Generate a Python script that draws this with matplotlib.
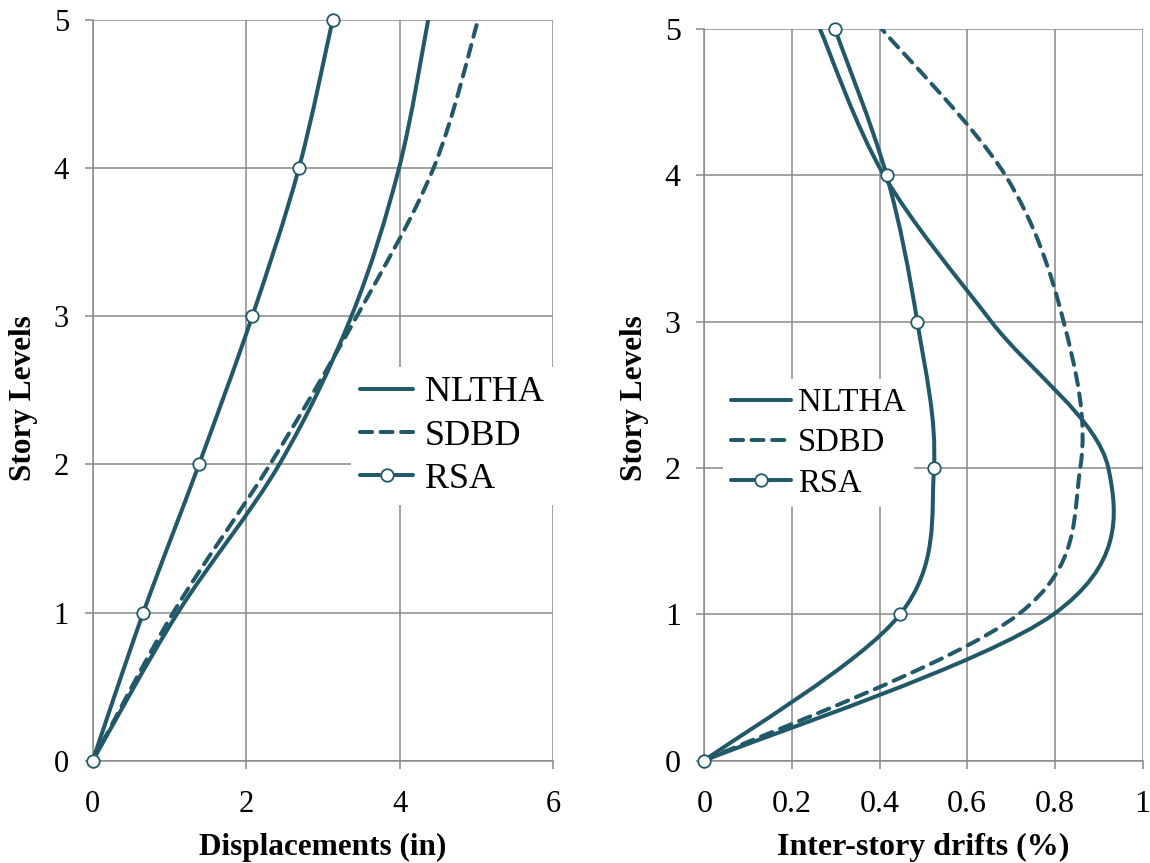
import numpy as np
import matplotlib
matplotlib.use("Agg")
import matplotlib.pyplot as plt
from matplotlib.path import Path
from matplotlib.patches import PathPatch
from matplotlib.lines import Line2D

# ---------------- data ----------------
stories = [0, 1, 2, 3, 4, 5]
disp_nltha = [0, 1.11, 2.43, 3.37, 3.99, 4.37]
disp_sdbd = [0, 1.05, 2.31, 3.44, 4.44, 5.02]
disp_rsa = [0, 0.659, 1.384, 2.078, 2.686, 3.125]

drift_nltha = [0, 0.797, 0.922, 0.655, 0.41, 0.264]
drift_sdbd = [0, 0.717, 0.858, 0.82, 0.687, 0.405]
drift_rsa = [0, 0.447, 0.524, 0.486, 0.416, 0.298]

series_names = ["NLTHA", "SDBD", "RSA"]
disp_xticks = [0, 2, 4, 6]
drift_xticks = [0, 0.2, 0.4, 0.6, 0.8, 1]
drift_xticklabels = ["0", "0.2", "0.4", "0.6", "0.8", "1"]
ylabel = "Story Levels"
xlabel_left = "Displacements (in)"
xlabel_right = "Inter-story drifts (%)"

# ---------------- style ----------------
W, H = 1150, 863
COL = "#215968"
GRID = "#898989"
LW = 2.9
FONT = "Liberation Serif"
plt.rcParams["font.family"] = [FONT, "DejaVu Serif"]

fig = plt.figure(figsize=(W / 100, H / 100), dpi=100)


def px_axes(l, t, r, b):
    return fig.add_axes([l / W, 1 - b / H, (r - l) / W, (b - t) / H])


axL = px_axes(92.7, 20, 553.3, 760.7)
axR = px_axes(704.3, 29, 1142.5, 760.6)


def smooth_patch(ax, xs, ys, **kw):
    """Excel-like smoothed line (Catmull-Rom Bezier computed in screen space)."""
    x0, x1 = ax.get_xlim()
    y0, y1 = ax.get_ylim()
    pos = ax.get_position()
    Wp, Hp = pos.width * W, pos.height * H
    P = np.column_stack([(np.asarray(xs, float) - x0) / (x1 - x0) * Wp,
                         (np.asarray(ys, float) - y0) / (y1 - y0) * Hp])
    n = len(P)
    verts = [P[0]]
    codes = [Path.MOVETO]
    for i in range(n - 1):
        pm = P[i - 1] if i > 0 else P[i]
        pp = P[i + 2] if i + 2 < n else P[i + 1]
        c1 = P[i] + (P[i + 1] - pm) / 6.0
        c2 = P[i + 1] - (pp - P[i]) / 6.0
        verts += [c1, c2, P[i + 1]]
        codes += [Path.CURVE4] * 3
    V = np.array(verts)
    V[:, 0] = V[:, 0] / Wp * (x1 - x0) + x0
    V[:, 1] = V[:, 1] / Hp * (y1 - y0) + y0
    patch = PathPatch(Path(V, codes), fill=False, edgecolor=COL, lw=LW,
                      capstyle="round", joinstyle="round", **kw)
    ax.add_patch(patch)
    return patch


def style_axes(ax, xlim, xticks, xticklabels, tick_fs):
    ax.set_xlim(*xlim)
    ax.set_ylim(0, 5)
    ax.set_xticks(xticks)
    ax.set_xticklabels(xticklabels)
    ax.set_yticks(stories)
    for s in ["top", "right"]:
        ax.spines[s].set_visible(False)
    for s in ["left", "bottom"]:
        ax.spines[s].set_color(GRID)
        ax.spines[s].set_linewidth(1.1)
    ax.grid(True, color=GRID, lw=1.1)
    ax.set_axisbelow(True)
    ax.tick_params(axis="both", direction="out", length=6, width=1.1,
                   color=GRID, labelsize=tick_fs, labelcolor="black")
    ax.tick_params(axis="x", pad=15)
    ax.tick_params(axis="y", pad=11)


style_axes(axL, (0, 6), disp_xticks, [str(v) for v in disp_xticks], 22)
style_axes(axR, (0, 1), drift_xticks, drift_xticklabels, 23)

dash = (0, (3.0, 2.1))

for ax, nl, sd, rs in [(axL, disp_nltha, disp_sdbd, disp_rsa),
                       (axR, drift_nltha, drift_sdbd, drift_rsa)]:
    smooth_patch(ax, nl, stories, zorder=3)
    smooth_patch(ax, sd, stories, linestyle=dash, zorder=3)
    smooth_patch(ax, rs, stories, zorder=3)
    ax.plot(rs, stories, linestyle="none", marker="o", ms=9, mfc="white",
            mec=COL, mew=1.3, zorder=4, clip_on=False)

axL.set_ylabel(ylabel, fontsize=22.5, fontweight="bold")
axR.set_ylabel(ylabel, fontsize=22.5, fontweight="bold")
axL.set_xlabel(xlabel_left, fontsize=22.5, fontweight="bold", labelpad=10)
axR.set_xlabel(xlabel_right, fontsize=23, fontweight="bold", labelpad=10)
axL.yaxis.set_label_coords(-0.119, 0.49)
axR.yaxis.set_label_coords(-0.126, 0.496)


def handles():
    return [Line2D([], [], color=COL, lw=LW, solid_capstyle="round"),
            Line2D([], [], color=COL, lw=LW, linestyle=dash, dash_capstyle="round"),
            Line2D([], [], color=COL, lw=LW, marker="o", ms=9, mfc="white",
                   mec=COL, mew=1.3, solid_capstyle="round")]


def place_legend(ax, left_px, top_px, fs, hl, htp, ls, bp):
    fx = left_px / W
    fy = 1 - top_px / H
    leg = ax.legend(handles(), series_names, loc="upper left",
                    bbox_to_anchor=(fx, fy), bbox_transform=fig.transFigure,
                    fontsize=fs, handlelength=hl, handletextpad=htp,
                    labelspacing=ls, borderpad=bp, borderaxespad=0,
                    frameon=True, fancybox=False, facecolor="white",
                    edgecolor="none", framealpha=1, numpoints=1)
    leg.set_zorder(5)
    return leg


place_legend(axL, 351, 367, 26, 1.47, 0.33, 0.28, 0.25)
place_legend(axR, 722.5, 379.5, 23.5, 1.84, 0.22, 0.3, 0.25)

fig.savefig("out.png", dpi=100)
